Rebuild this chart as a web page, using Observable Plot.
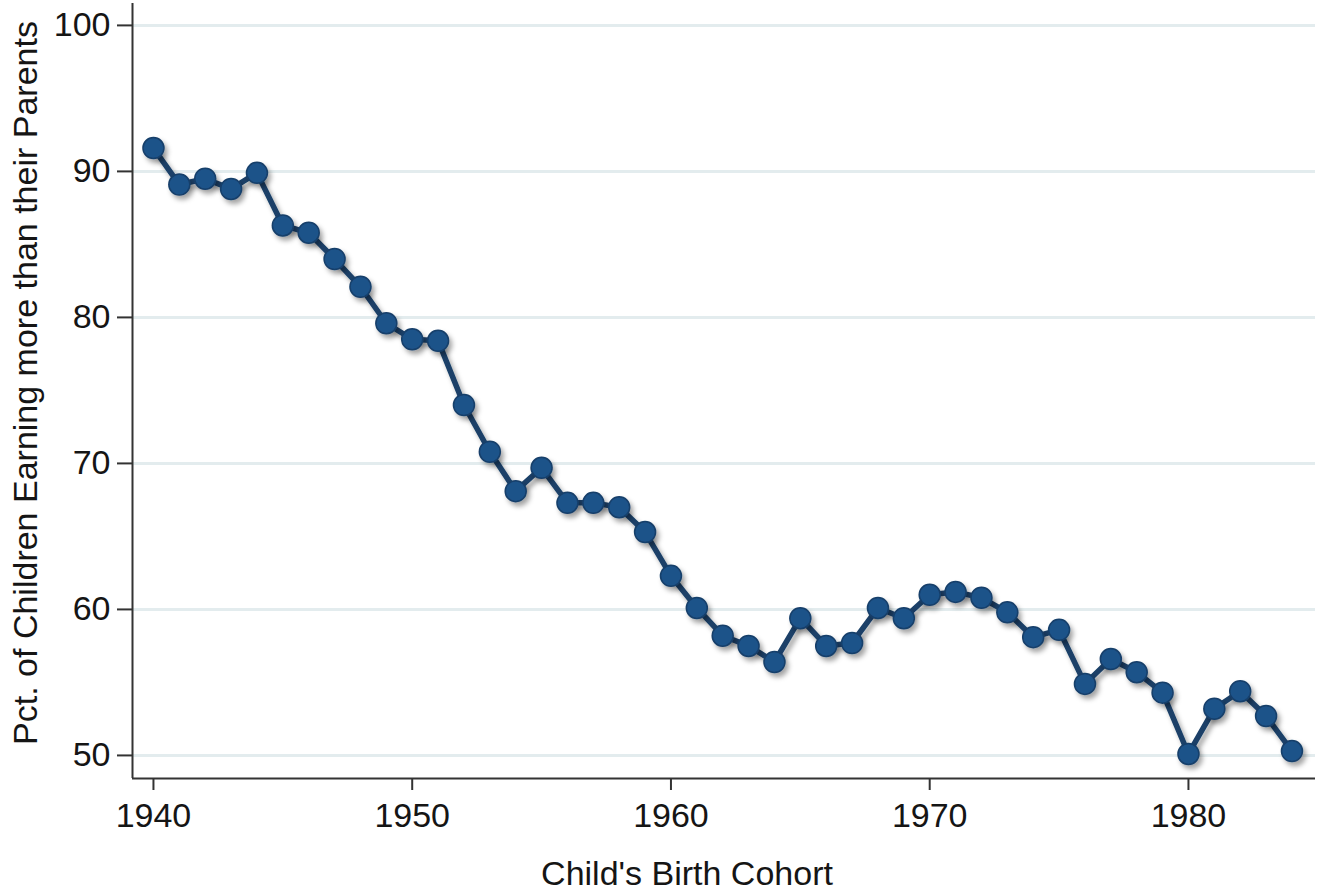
<!DOCTYPE html>
<html><head><meta charset="utf-8">
<script src="https://cdn.jsdelivr.net/npm/d3@7"></script>
<script src="https://cdn.jsdelivr.net/npm/@observablehq/plot@0.6"></script>
<style>body{margin:0;background:#fff;overflow:hidden}</style>
</head><body><div id="chart"></div>
<script>
const years = [1940,1941,1942,1943,1944,1945,1946,1947,1948,1949,
               1950,1951,1952,1953,1954,1955,1956,1957,1958,1959,
               1960,1961,1962,1963,1964,1965,1966,1967,1968,1969,
               1970,1971,1972,1973,1974,1975,1976,1977,1978,1979,
               1980,1981,1982,1983,1984];
const pct = [91.6,89.1,89.5,88.8,89.9,86.3,85.8,84.0,82.1,79.6,
             78.5,78.4,74.0,70.8,68.1,69.7,67.3,67.3,67.0,65.3,
             62.3,60.1,58.2,57.5,56.4,59.4,57.5,57.7,60.1,59.4,
             61.0,61.2,60.8,59.8,58.1,58.6,54.9,56.6,55.7,54.3,
             50.1,53.2,54.4,52.7,50.3];
const xTicks = [1940,1950,1960,1970,1980];
const yTicks = [50,60,70,80,90,100];
const xDomain = [1939.19, 1984.91];
const yDomain = [48.42, 101.5];
const xLabel = "Child's Birth Cohort";
const yLabel = "Pct. of Children Earning more than their Parents";

const data = years.map((y, i) => ({year: y, pct: pct[i]}));

const chart = Plot.plot({
  width: 1319,
  height: 893,
  marginLeft: 132,
  marginRight: 4,
  marginTop: 3,
  marginBottom: 115,
  style: {fontFamily: "'Liberation Sans', Arial, sans-serif", color: "#151515", background: "#fff", fontSize: "34px"},
  x: {domain: xDomain},
  y: {domain: yDomain},
  marks: [
    Plot.ruleY(yTicks, {stroke: "#e3ecee", strokeWidth: 3}),
    Plot.ruleX([xDomain[0]], {stroke: "#333", strokeWidth: 2}),
    Plot.ruleY([yDomain[0]], {stroke: "#333", strokeWidth: 2}),
    Plot.axisY({ticks: yTicks, tickSize: 15, tickPadding: 7, fontSize: 34, stroke: "#333", strokeWidth: 2,
      label: yLabel, labelAnchor: "center", labelOffset: 120, labelArrow: "none"}),
    Plot.axisX({ticks: xTicks, tickSize: 12, tickPadding: 12, fontSize: 34, stroke: "#333", strokeWidth: 2,
      tickFormat: d => String(d),
      label: xLabel, labelAnchor: "center", labelOffset: 106, labelArrow: "none"}),
    Plot.line(data, {x: "year", y: "pct", stroke: "#1a4068", strokeWidth: 5.5}),
    Plot.dot(data, {x: "year", y: "pct", r: 10.5, fill: "#1d5289", stroke: "#173f6a", strokeWidth: 1.5})
  ]
});

document.getElementById("chart").appendChild(chart);

const svg = d3.select(chart);
svg.selectAll("g[aria-label$='tick label']").style("font-size", "34px");
svg.selectAll("g[aria-label$='axis label']").style("font-size", "34px");
function shift(sel, dx, dy) {
  svg.selectAll(sel).attr("transform", function () {
    const t = this.getAttribute("transform") || "";
    return `translate(${dx},${dy}) ${t}`;
  });
}
shift("g[aria-label='y-axis label']", 0, -8);
shift("g[aria-label='x-axis label']", -37, 0);

// drop shadow
const defs = svg.insert("defs", ":first-child");
const f = defs.append("filter").attr("id", "shadow").attr("x", "-10%").attr("y", "-10%").attr("width", "130%").attr("height", "130%");
f.append("feDropShadow").attr("dx", 3).attr("dy", 4).attr("stdDeviation", 2.5)
  .attr("flood-color", "#000").attr("flood-opacity", 0.35);
svg.selectAll("g[aria-label='line'], g[aria-label='dot']").attr("filter", "url(#shadow)");
</script>
</body></html>
